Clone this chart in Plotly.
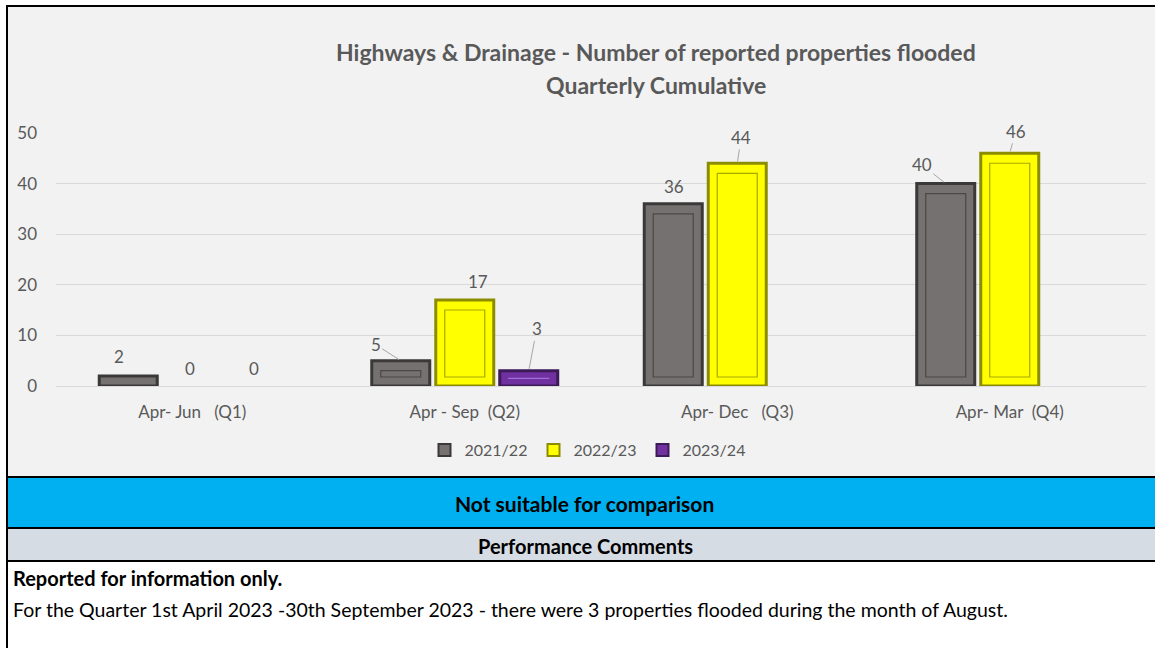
import plotly.graph_objects as go

categories = ["Apr-\u00a0Jun\u00a0\u00a0\u00a0(Q1)", "Apr\u00a0-\u00a0Sep\u00a0\u00a0(Q2)",
              "Apr-\u00a0Dec\u00a0\u00a0\u00a0(Q3)", "Apr-\u00a0Mar\u00a0\u00a0(Q4)"]
series_names = ["2021/22", "2022/23", "2023/24"]
values_2021 = [2, 5, 36, 40]
values_2022 = [0, 17, 44, 46]
values_2023 = [0, 3, None, None]

colors = ["#767171", "#FFFF00", "#7030A0"]
borders = ["#3A3838", "#8C8C00", "#3C1A57"]
inner_lines = ["#4A4848", "#A8A800", "#A070D8"]

# data-label placement (pixel offsets from bar top, leader line shown or not)
label_dx = [[-9, -25, 1, -24], [-2, 13, 4, 6], [-2, 8, 0, 0]]
label_dy = [[-19, -16, -17, -19], [-18, -18, -26, -22], [-18, -42, 0, 0]]
label_leader = [[False, True, False, True], [False, False, True, True], [False, True, False, False]]

W, H = 1155, 648
L, R, T, B = 56, 1146, 133, 386

def px(x):
    return (x - L) / (R - L)

def py(y):
    return (B - y) / (B - T)

cat_px = (R - L) / len(categories)
slot_px = 64
slot = slot_px / cat_px
bar_w = 58 / cat_px
inset_x = 9 / cat_px
unit_px = (B - T) / 50.0
inset_bot = 9 / unit_px
inset_top = 10 / unit_px

FONT = "Lato"
fig = go.Figure()
annotations = []
all_vals = [values_2021, values_2022, values_2023]
for i, (name, vals, c, bc, ic) in enumerate(zip(series_names, all_vals, colors, borders, inner_lines)):
    center = (i - 1) * slot
    fig.add_trace(go.Bar(
        x=categories, y=vals, name=name, showlegend=False,
        offset=center - bar_w / 2, width=bar_w,
        marker=dict(color=c, line=dict(color=bc, width=[0 if not v else 3 for v in vals])),
    ))
    inner_h, inner_b = [], []
    for v in vals:
        if v and v - inset_bot - inset_top > 0:
            inner_h.append(v - inset_bot - inset_top)
            inner_b.append(inset_bot)
        elif v and v >= 3:
            inner_h.append(0.02)
            inner_b.append(v / 2)
        else:
            inner_h.append(None)
            inner_b.append(0)
    fig.add_trace(go.Bar(
        x=categories, y=inner_h, base=inner_b, showlegend=False, hoverinfo="skip",
        offset=center - bar_w / 2 + inset_x, width=bar_w - 2 * inset_x,
        marker=dict(color=c, line=dict(color=ic, width=1.2)),
    ))
    fig.add_trace(go.Bar(
        x=[categories[0]], y=[None], name=name, showlegend=True,
        marker=dict(color=c, line=dict(color=bc, width=2)),
    ))
    for j, v in enumerate(vals):
        if v is None:
            continue
        annotations.append(dict(
            x=categories[j], y=v, xref="x", yref="y", text=str(v),
            xshift=(i - 1) * slot_px, showarrow=True, arrowhead=0, arrowwidth=1,
            arrowcolor="#A6A6A6" if label_leader[i][j] else "rgba(0,0,0,0)",
            standoff=2, ax=label_dx[i][j], ay=label_dy[i][j],
            font=dict(size=17, color="#595959", family=FONT),
        ))

shapes = [
    dict(type="rect", xref="paper", yref="paper", x0=px(7), x1=px(1162), y0=py(477), y1=py(6),
         fillcolor="#F2F2F2", line=dict(color="black", width=2), layer="below"),
    dict(type="rect", xref="paper", yref="paper", x0=px(7), x1=px(1162), y0=py(528), y1=py(477),
         fillcolor="#00B0F0", line=dict(color="black", width=2), layer="below"),
    dict(type="rect", xref="paper", yref="paper", x0=px(7), x1=px(1162), y0=py(561), y1=py(528),
         fillcolor="#D6DCE4", line=dict(color="black", width=2), layer="below"),
    dict(type="line", xref="paper", yref="paper", x0=px(7), x1=px(7), y0=py(650), y1=py(561),
         line=dict(color="black", width=2)),
]

annotations += [
    dict(text="<b>Highways & Drainage - Number of reported properties flooded</b>",
         x=px(656), y=py(52), xref="paper", yref="paper", showarrow=False,
         font=dict(size=23, color="#595959", family=FONT), xanchor="center", yanchor="middle"),
    dict(text="<b>Quarterly Cumulative</b>",
         x=px(656), y=py(85), xref="paper", yref="paper", showarrow=False,
         font=dict(size=23, color="#595959", family=FONT), xanchor="center", yanchor="middle"),
    dict(text="<b>Not suitable for comparison</b>",
         x=px(584), y=py(503), xref="paper", yref="paper", showarrow=False,
         font=dict(size=21, color="black", family=FONT), xanchor="center", yanchor="middle"),
    dict(text="<b>Performance Comments</b>",
         x=px(585), y=py(546), xref="paper", yref="paper", showarrow=False,
         font=dict(size=20, color="black", family=FONT), xanchor="center", yanchor="middle"),
    dict(text="<b>Reported for information only.</b>",
         x=px(11), y=py(578), xref="paper", yref="paper", showarrow=False,
         font=dict(size=20, color="black", family=FONT), xanchor="left", yanchor="middle"),
    dict(text="For the Quarter 1st April 2023 -30th September 2023 - there were 3 properties flooded during the month of August.",
         x=px(11), y=py(609), xref="paper", yref="paper", showarrow=False,
         font=dict(size=19.5, color="black", family=FONT), xanchor="left", yanchor="middle"),
]

fig.update_layout(
    width=W, height=H,
    margin=dict(l=L, r=W - R, t=T, b=H - B, autoexpand=False),
    paper_bgcolor="white", plot_bgcolor="#F2F2F2",
    barmode="overlay",
    font=dict(family=FONT, color="#595959", size=16),
    showlegend=True,
    legend=dict(orientation="h", x=px(588), xanchor="center", y=py(450), yanchor="middle",
                font=dict(size=16, color="#595959", family=FONT), bgcolor="rgba(0,0,0,0)",
                itemwidth=30, entrywidth=64, traceorder="normal"),
    shapes=shapes, annotations=annotations,
)
fig.update_yaxes(range=[0, 50], dtick=10, showgrid=True, gridcolor="#D9D9D9", gridwidth=1,
                 zeroline=True, zerolinecolor="#D9D9D9", zerolinewidth=1,
                 tickfont=dict(size=17, color="#595959", family=FONT), ticklabelstandoff=18,
                 showline=False, fixedrange=True)
fig.update_xaxes(showline=False, tickfont=dict(size=17, color="#595959", family=FONT),
                 ticklabelstandoff=14, fixedrange=True)

fig.write_html("out.html", config={"displayModeBar": False},
               post_script="document.body.style.margin='0';document.body.style.overflow='hidden';")
